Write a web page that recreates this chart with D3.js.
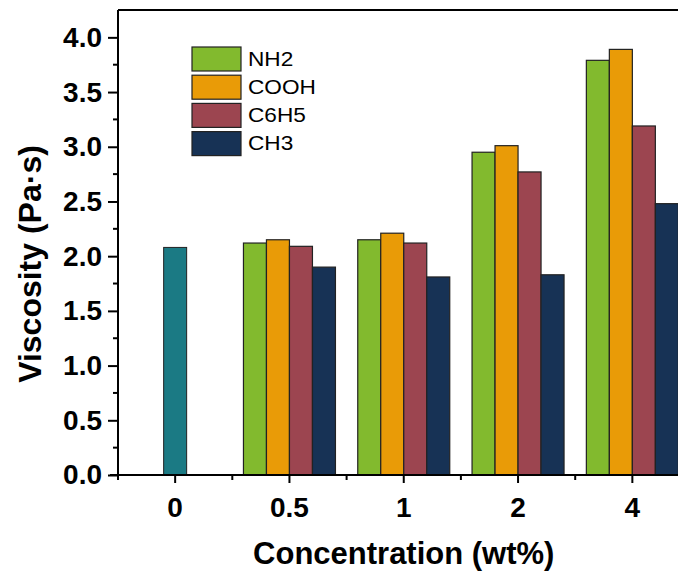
<!DOCTYPE html>
<html>
<head>
<meta charset="utf-8">
<script src="https://cdn.jsdelivr.net/npm/d3@7"></script>
<style>
  body { margin: 0; background: #fff; }
  svg { display: block; font-family: "Liberation Sans", Arial, sans-serif; }
  .axis path, .axis line { stroke: #000; stroke-width: 2; }
  .axis text { font-weight: bold; font-size: 28px; fill: #000; }
</style>
</head>
<body>
<svg width="678" height="576"></svg>
<script>
// data
const categories = ["0", "0.5", "1", "2", "4"]
const series = ["NH2", "COOH", "C6H5", "CH3"]
const nh2  = [2.12, 2.15, 2.95, 3.79]
const cooh = [2.15, 2.21, 3.01, 3.89]
const c6h5 = [2.09, 2.12, 2.77, 3.19]
const ch3  = [1.90, 1.81, 1.83, 2.48]
const neat = 2.08   // bar at 0 wt%
const yTicks = [0, 0.5, 1, 1.5, 2, 2.5, 3, 3.5, 4]

const colors = {NH2: "#82ba2e", COOH: "#e99b07", C6H5: "#9c4550", CH3: "#173255"}
const neatColor = "#1b7a84"

const svg = d3.select("svg")
const mLeft = 118, mTop = 10, mBottom = 475, mRight = 689.5

// scales
const x = d3.scaleBand().domain(categories).range([mLeft, mRight])
const xSub = d3.scaleBand().domain(series).range([0, x.bandwidth()]).paddingOuter(0.485)
const y = d3.scaleLinear().domain([0, 4.25]).range([mBottom, mTop])

const values = {NH2: nh2, COOH: cooh, C6H5: c6h5, CH3: ch3}
const rows = []
categories.slice(1).forEach((c, i) => {
  series.forEach(s => rows.push({cat: c, s: s, v: values[s][i]}))
})

//bars
svg.append("rect")
  .attr("x", x("0") + x.bandwidth() / 2 - xSub.bandwidth() / 2)
  .attr("y", y(neat))
  .attr("width", xSub.bandwidth())
  .attr("height", y(0) - y(neat))
  .attr("fill", neatColor)
  .attr("stroke", "#222")
  .attr("stroke-width", 1)

svg.selectAll("rect.bar")
  .data(rows)
  .enter()
  .append("rect")
  .attr("class", "bar")
  .attr("x", d => x(d.cat) + xSub(d.s))
  .attr("y", d => y(d.v))
  .attr("width", xSub.bandwidth())
  .attr("height", d => y(0) - y(d.v))
  .attr("fill", d => colors[d.s])
  .attr("stroke", "#222")
  .attr("stroke-width", 1.2)

//minor ticks
const yMinor = d3.range(0.25, 4.25, 0.5)
svg.append("g").selectAll("line")
  .data(yMinor).enter().append("line")
  .attr("x1", mLeft - 5).attr("x2", mLeft)
  .attr("y1", d => y(d)).attr("y2", d => y(d))
  .attr("stroke", "#000").attr("stroke-width", 2)

const xMinor = categories.map(c => x(c))
svg.append("g").selectAll("line")
  .data(xMinor).enter().append("line")
  .attr("x1", d => d).attr("x2", d => d)
  .attr("y1", mBottom).attr("y2", mBottom + 5)
  .attr("stroke", "#000").attr("stroke-width", 2)

//axes
svg.append("g")
  .attr("class", "axis")
  .attr("transform", `translate(${mLeft},0)`)
  .call(d3.axisLeft(y).tickValues(yTicks).tickFormat(d3.format(".1f")).tickSize(10).tickPadding(6).tickSizeOuter(0))
  .call(g => g.select(".domain").attr("d", `M0,${mBottom}V${mTop}`))

svg.append("g")
  .attr("class", "axis")
  .attr("transform", `translate(0,${mBottom})`)
  .call(d3.axisBottom(x).tickSize(8).tickPadding(14).tickSizeOuter(0))
  .call(g => g.select(".domain").attr("d", `M${mLeft - 8},0H${mRight}`))

// top frame
svg.append("line")
  .attr("x1", mLeft).attr("x2", mRight)
  .attr("y1", mTop).attr("y2", mTop)
  .attr("stroke", "#000").attr("stroke-width", 2)

//titles
svg.append("text")
  .attr("x", (mLeft + mRight) / 2)
  .attr("y", 564)
  .attr("text-anchor", "middle")
  .style("font-size", "31px")
  .style("font-weight", "bold")
  .text("Concentration (wt%)")

svg.append("text")
  .attr("transform", "translate(41,264) rotate(-90)")
  .attr("text-anchor", "middle")
  .style("font-size", "32px")
  .style("font-weight", "bold")
  .text("Viscosity (Pa·s)")

//legend
const legend = svg.append("g")
  .selectAll("g")
  .data(series)
  .enter()
  .append("g")
  .attr("transform", (d, i) => `translate(192,${47 + i * 28.2})`)

legend.append("rect")
  .attr("width", 49)
  .attr("height", 24)
  .attr("fill", d => colors[d])
  .attr("stroke", "#222")
  .attr("stroke-width", 1.2)

// text in the picture is a bit stretched sideways
legend.append("text")
  .attr("transform", "translate(56,12) scale(1.16,1)")
  .attr("dy", "0.35em")
  .style("font-size", "19.5px")
  .text(d => d)
</script>
</body>
</html>
